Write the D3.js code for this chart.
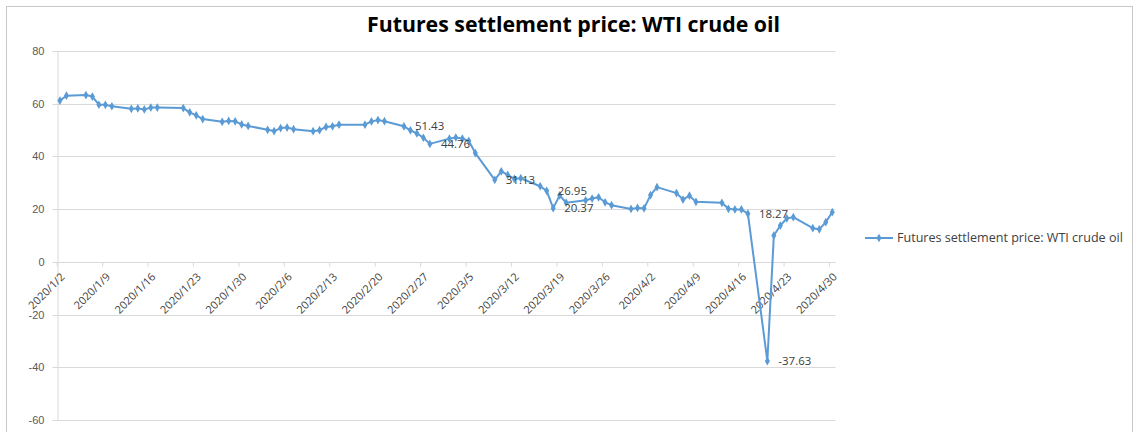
<!DOCTYPE html>
<html>
<head>
<meta charset="utf-8">
<script src="https://cdn.jsdelivr.net/npm/d3@7"></script>
<style>
    body { margin: 0; background: #fff; }
    svg { display: block; font-family: "Open Sans", "Liberation Sans", sans-serif; }
</style>
</head>
<body>
<div id="chart"></div>
<script>
// WTI settlement prices, trading days Jan 2 - Apr 30 2020
const dates = [
    '2020-01-02', '2020-01-03', '2020-01-06', '2020-01-07', '2020-01-08', '2020-01-09', '2020-01-10',
    '2020-01-13', '2020-01-14', '2020-01-15', '2020-01-16', '2020-01-17', '2020-01-21', '2020-01-22',
    '2020-01-23', '2020-01-24', '2020-01-27', '2020-01-28', '2020-01-29', '2020-01-30', '2020-01-31',
    '2020-02-03', '2020-02-04', '2020-02-05', '2020-02-06', '2020-02-07', '2020-02-10', '2020-02-11',
    '2020-02-12', '2020-02-13', '2020-02-14', '2020-02-18', '2020-02-19', '2020-02-20', '2020-02-21',
    '2020-02-24', '2020-02-25', '2020-02-26', '2020-02-27', '2020-02-28', '2020-03-02', '2020-03-03',
    '2020-03-04', '2020-03-05', '2020-03-06', '2020-03-09', '2020-03-10', '2020-03-11', '2020-03-12',
    '2020-03-13', '2020-03-16', '2020-03-17', '2020-03-18', '2020-03-19', '2020-03-20', '2020-03-23',
    '2020-03-24', '2020-03-25', '2020-03-26', '2020-03-27', '2020-03-30', '2020-03-31', '2020-04-01',
    '2020-04-02', '2020-04-03', '2020-04-06', '2020-04-07', '2020-04-08', '2020-04-09', '2020-04-13',
    '2020-04-14', '2020-04-15', '2020-04-16', '2020-04-17', '2020-04-20', '2020-04-21', '2020-04-22',
    '2020-04-23', '2020-04-24', '2020-04-27', '2020-04-28', '2020-04-29', '2020-04-30'
];
const prices = [
    61.18, 63.05, 63.27, 62.70, 59.61, 59.56, 59.04,
    58.08, 58.23, 57.81, 58.52, 58.54, 58.34, 56.74,
    55.59, 54.19, 53.14, 53.48, 53.33, 52.14, 51.56,
    50.11, 49.61, 50.75, 50.95, 50.32, 49.57, 49.94,
    51.17, 51.42, 52.05, 52.05, 53.29, 53.78, 53.38,
    51.43, 49.90, 48.73, 47.09, 44.76, 46.75, 47.18,
    46.78, 45.90, 41.28, 31.13, 34.36, 32.98, 31.50,
    31.73, 28.70, 26.95, 20.37, 25.22, 22.43, 23.36,
    24.01, 24.49, 22.60, 21.51, 20.09, 20.48, 20.31,
    25.32, 28.34, 26.08, 23.63, 25.09, 22.76, 22.41,
    20.11, 19.87, 19.87, 18.27, -37.63, 10.01, 13.78,
    16.50, 16.94, 12.78, 12.34, 15.06, 18.84
];
const labeledDates = ['2020-02-24', '2020-02-28', '2020-03-09', '2020-03-17', '2020-03-18', '2020-04-17', '2020-04-20'];
const yTicks = [-60, -40, -20, 0, 20, 40, 60, 80];
const seriesName = 'Futures settlement price: WTI crude oil';
const chartTitle = 'Futures settlement price: WTI crude oil';

const W = 1133, H = 432;
const parse = d3.utcParse('%Y-%m-%d');
const fmt = d3.utcFormat('%Y/%-m/%-d');
const dayMs = 24 * 3600 * 1000;

const data = dates.map((d, i) => ({ date: parse(d), value: prices[i], key: d }));

const svg = d3.select('#chart').append('svg')
    .attr('width', W)
    .attr('height', H);

// chart border
svg.append('rect')
    .attr('x', 6.5).attr('y', 6.5)
    .attr('width', 1126).attr('height', 440)
    .attr('fill', '#fff')
    .attr('stroke', '#c8c8c8');

// date axis, each day is a band; ticks at band starts, points at centres
const start = parse('2020-01-02');
const end = d3.utcDay.offset(parse('2020-04-30'), 1);
const x = d3.scaleUtc().domain([start, end]).range([56.7, 835.5]);
const y = d3.scaleLinear().domain([-60, 80]).range([420, 51]);
const px = d => x(new Date(d.date.getTime() + dayMs / 2));

// gridlines
svg.append('g')
    .selectAll('line')
    .data(yTicks)
    .join('line')
    .attr('x1', x.range()[0]).attr('x2', x.range()[1])
    .attr('y1', d => Math.round(y(d)) + 0.5).attr('y2', d => Math.round(y(d)) + 0.5)
    .attr('stroke', '#d9d9d9');

// y axis
const yAxis = svg.append('g')
    .attr('transform', `translate(${Math.round(x.range()[0]) + 0.5},0)`)
    .call(d3.axisLeft(y).tickValues(yTicks).tickSize(5).tickPadding(8).tickFormat(d => String(d)));
yAxis.select('.domain').attr('stroke', '#d9d9d9');
yAxis.selectAll('.tick line').attr('stroke', '#d9d9d9');
yAxis.selectAll('.tick text')
    .attr('fill', '#595959')
    .style('font-size', '11px');
yAxis.selectAll('.tick')
    .attr('transform', d => `translate(0,${Math.round(y(d)) + 0.5})`);

// x axis at zero, weekly ticks
const weekTicks = d3.range(0, 18).map(k => d3.utcDay.offset(start, k * 7));
const xAxis = svg.append('g')
    .attr('transform', `translate(0,${Math.round(y(0)) + 0.5})`)
    .call(d3.axisBottom(x).tickValues(weekTicks).tickSize(4).tickFormat(''));
xAxis.select('.domain').attr('stroke', '#d9d9d9').attr('d', `M${x.range()[0]},0H${x.range()[1]}`);
xAxis.selectAll('.tick line').attr('stroke', '#d9d9d9');

svg.append('g')
    .selectAll('text')
    .data(weekTicks)
    .join('text')
    .attr('transform', d => `translate(${x(d) + 6},${y(0) + 13}) rotate(-45)`)
    .attr('text-anchor', 'end')
    .attr('dy', '0.35em')
    .attr('fill', '#404040')
    .style('font-size', '11px')
    .text(d => fmt(d));

// series line
const line = d3.line().x(px).y(d => y(d.value));
svg.append('path')
    .datum(data)
    .attr('d', line)
    .attr('fill', 'none')
    .attr('stroke', '#5b9bd5')
    .attr('stroke-width', 2)
    .attr('stroke-linejoin', 'round');

const diamond = d3.symbol().type(d3.symbolDiamond).size(22);
svg.append('g')
    .selectAll('path')
    .data(data)
    .join('path')
    .attr('transform', d => `translate(${px(d)},${y(d.value)})`)
    .attr('d', diamond)
    .attr('fill', '#5b9bd5');

// data labels, placed right of the point
svg.append('g')
    .selectAll('text')
    .data(data.filter(d => labeledDates.includes(d.key)))
    .join('text')
    .attr('x', d => px(d) + 11)
    .attr('y', d => y(d.value))
    .attr('dy', '0.35em')
    .attr('fill', '#404040')
    .style('font-size', '11.5px')
    .text(d => d.value.toFixed(2).replace('\u2212', '-'));

// title
const title = svg.append('text')
    .attr('x', 573.5)
    .attr('y', 32)
    .attr('text-anchor', 'middle')
    .attr('fill', '#000')
    .style('font-weight', 'bold')
    .style('font-size', '17px')
    .text(chartTitle);
const tw = title.node().getComputedTextLength();
title.style('font-size', (17 * 413 / tw).toFixed(2) + 'px');

// legend
const legend = svg.append('g').attr('transform', 'translate(865,238)');
legend.append('line')
    .attr('x1', 0).attr('x2', 28)
    .attr('stroke', '#5b9bd5')
    .attr('stroke-width', 2);
legend.append('path')
    .attr('transform', 'translate(14,0)')
    .attr('d', diamond)
    .attr('fill', '#5b9bd5');
const legendText = legend.append('text')
    .attr('x', 32)
    .attr('dy', '0.35em')
    .attr('fill', '#404040')
    .style('font-size', '10.5px')
    .text(seriesName);
const lw = legendText.node().getComputedTextLength();
legendText.style('font-size', (10.5 * 226 / lw).toFixed(2) + 'px');
</script>
</body>
</html>
